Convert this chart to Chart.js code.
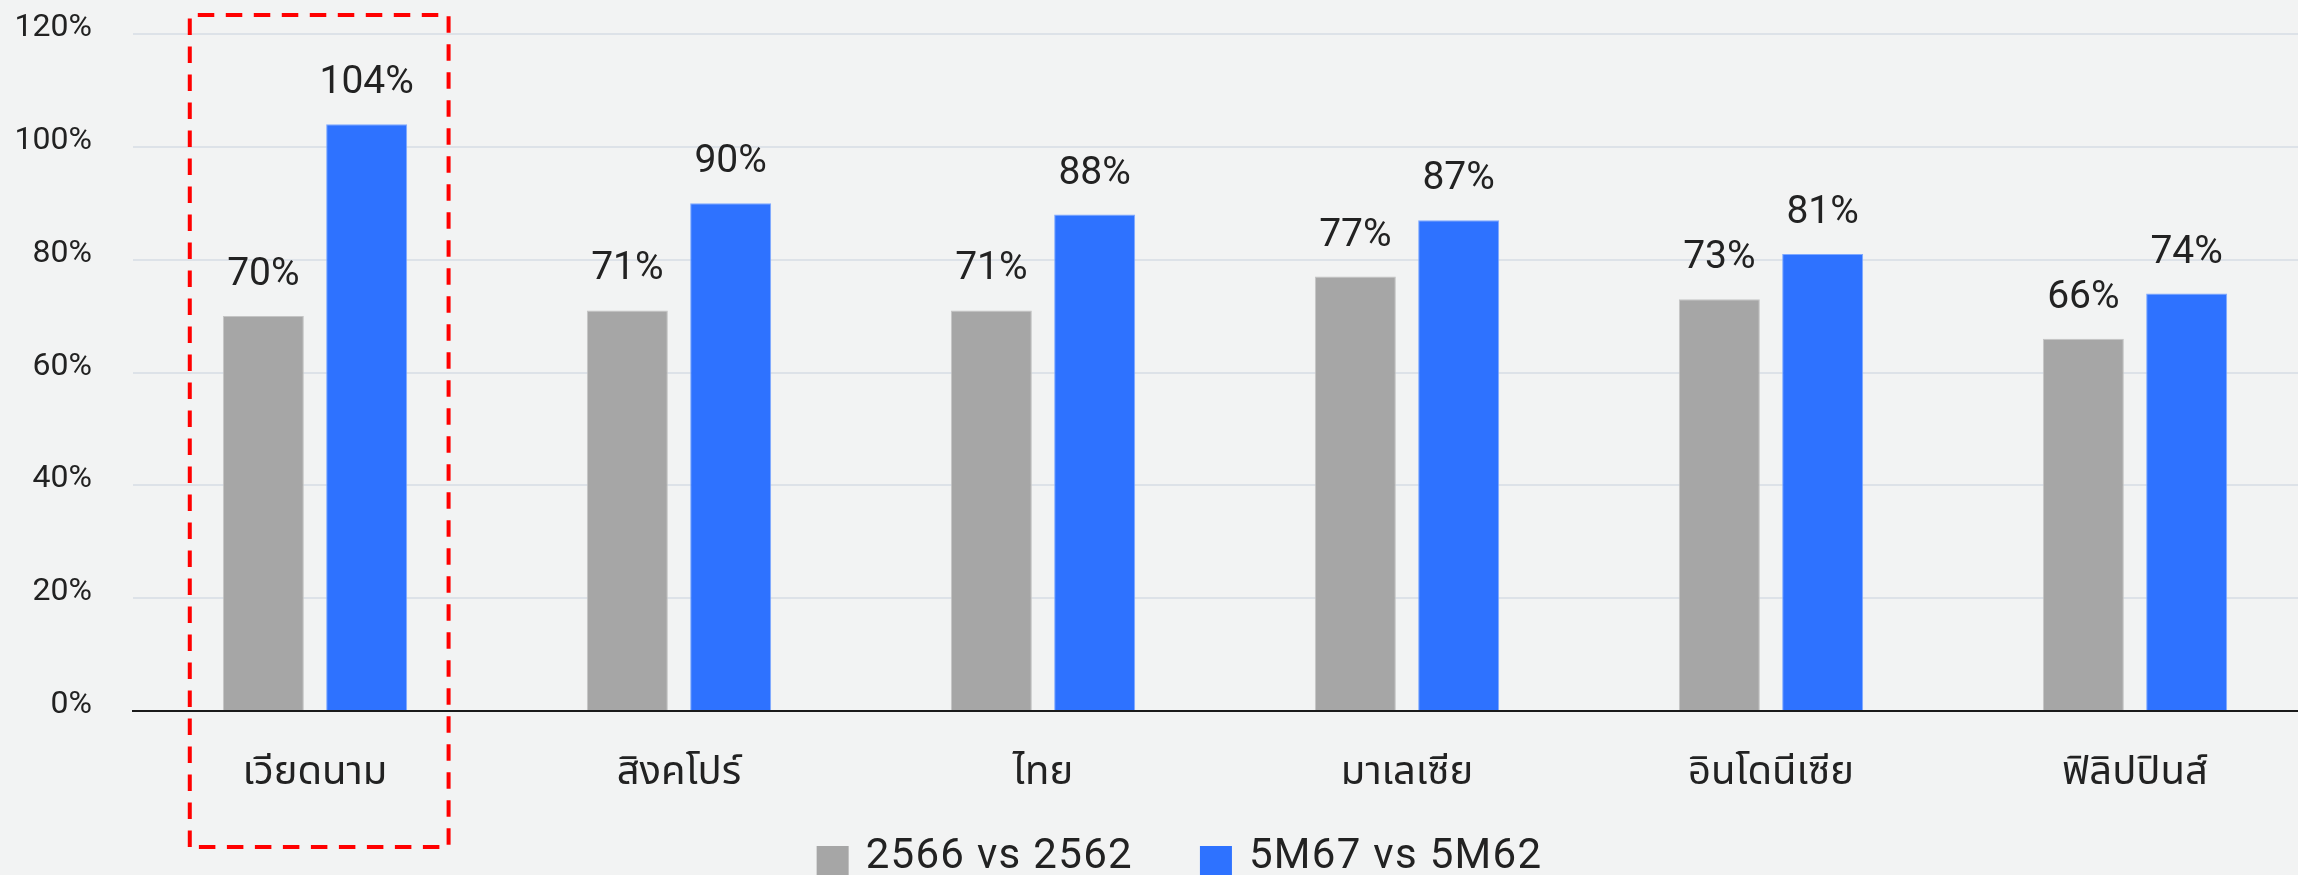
<!DOCTYPE html>
<html lang="th">
<head>
<meta charset="utf-8">
<title>อัตราการฟื้นตัว</title>
<script src="https://cdn.jsdelivr.net/npm/chart.js@4.4.1/dist/chart.umd.min.js"></script>
<style>
  html, body { margin: 0; padding: 0; background: #f2f3f3; overflow: hidden; }
  #wrap { width: 2298px; height: 875px; overflow: hidden; }
  canvas { display: block; }
</style>
</head>
<body>
<div id="wrap"><canvas id="chart" width="2317" height="875"></canvas></div>
<script>
// Countries on the category axis
const countries = ['เวียดนาม', 'สิงคโปร์', 'ไทย', 'มาเลเซีย', 'อินโดนีเซีย', 'ฟิลิปปินส์'];
// Series labels
const seriesNames = ['2566 vs 2562', '5M67 vs 5M62'];
// Recovery ratio, percent
const fullYear = [70, 71, 71, 77, 73, 66];
const fiveMonths = [104, 90, 88, 87, 81, 74];
// Value axis ticks
const yTicks = [0, 20, 40, 60, 80, 100, 120];

const FONT = "Roboto, 'Noto Sans Thai', 'Noto Sans', 'DejaVu Sans', sans-serif";
const TEXT = '#222222';
const GRAY = '#a6a6a6';
const BLUE = '#2e72ff';

// Percent labels above each bar
const valueLabels = {
  id: 'valueLabels',
  afterDatasetsDraw(chart) {
    const ctx = chart.ctx;
    ctx.save();
    ctx.font = `39px ${FONT}`;
    ctx.fillStyle = TEXT;
    ctx.textAlign = 'center';
    ctx.textBaseline = 'alphabetic';
    chart.data.datasets.forEach((ds, i) => {
      chart.getDatasetMeta(i).data.forEach((bar, j) => {
        ctx.fillText(ds.data[j] + '%', bar.x, bar.y - 31);
      });
    });
    ctx.restore();
  }
};

// Dashed frame around the first country
const highlight = {
  id: 'highlight',
  afterDraw(chart) {
    const x = chart.scales.x;
    const area = chart.chartArea;
    const cw = (area.right - area.left) / countries.length;
    const c = x.getPixelForValue(0);
    const left = c - 0.344 * cw;
    const right = c + 0.367 * cw;
    const top = area.top - 19;
    const bottom = area.bottom + 136;
    const ctx = chart.ctx;
    ctx.save();
    ctx.strokeStyle = '#ff0000';
    ctx.lineWidth = 4;
    ctx.setLineDash([16.5, 11.5]);
    ctx.beginPath();
    ctx.moveTo(left, bottom);
    ctx.lineTo(left, top);
    ctx.lineTo(right, top);
    ctx.lineTo(right, bottom);
    ctx.lineTo(left, bottom);
    ctx.stroke();
    ctx.restore();
  }
};

// Legend row under the axis labels
const legendRow = {
  id: 'legendRow',
  afterDraw(chart) {
    const ctx = chart.ctx;
    const area = chart.chartArea;
    ctx.save();
    ctx.font = `42px ${FONT}`;
    ctx.letterSpacing = '1.3px';
    const box = 32, gapText = 17, gapItem = 67;
    const items = chart.data.datasets.map(ds => ({
      text: ds.label, color: ds.backgroundColor, w: ctx.measureText(ds.label).width
    }));
    const total = items.reduce((s, it) => s + box + gapText + it.w, 0) + gapItem * (items.length - 1);
    let x = (area.left + area.right) / 2 - 45.5 - total / 2;
    const boxTop = area.bottom + 135;
    const baseline = area.bottom + 157;
    items.forEach(it => {
      ctx.fillStyle = it.color;
      ctx.fillRect(x, boxTop, box, box);
      ctx.fillStyle = TEXT;
      ctx.textBaseline = 'alphabetic';
      ctx.textAlign = 'left';
      ctx.fillText(it.text, x + box + gapText, baseline);
      x += box + gapText + it.w + gapItem;
    });
    ctx.restore();
  }
};

new Chart(document.getElementById('chart'), {
  type: 'bar',
  data: {
    labels: countries,
    datasets: [
      {
        label: seriesNames[0], data: fullYear,
        backgroundColor: GRAY, borderColor: '#c4c4c4', borderWidth: 1,
        categoryPercentage: 0.5676, barPercentage: 0.784
      },
      {
        label: seriesNames[1], data: fiveMonths,
        backgroundColor: BLUE, borderColor: '#7fa9ff', borderWidth: 1,
        categoryPercentage: 0.5676, barPercentage: 0.784
      }
    ]
  },
  options: {
    responsive: false,
    animation: false,
    layout: { padding: { top: 34, left: 0, right: 0, bottom: 0 } },
    plugins: {
      legend: { display: false },
      tooltip: { enabled: false }
    },
    scales: {
      x: {
        grid: { display: false },
        border: { display: true, color: '#1a1a1a', width: 2 },
        ticks: { color: TEXT, font: { family: FONT, size: 40 }, padding: 31, maxRotation: 0 },
        afterFit(scale) { scale.height = 164; }
      },
      y: {
        min: 0, max: 120,
        afterBuildTicks(scale) { scale.ticks = yTicks.map(v => ({ value: v })); },
        grid: { color: '#dde2e8', lineWidth: 2, drawTicks: false },
        border: { display: false },
        ticks: {
          color: TEXT, font: { family: FONT, size: 32 }, padding: 41, labelOffset: -6,
          callback: v => v + '%'
        },
        afterFit(scale) {
          scale.width = 133;
          scale.paddingTop = 0;
          scale.paddingBottom = 0;
        }
      }
    }
  },
  plugins: [valueLabels, highlight, legendRow]
});
</script>
</body>
</html>
